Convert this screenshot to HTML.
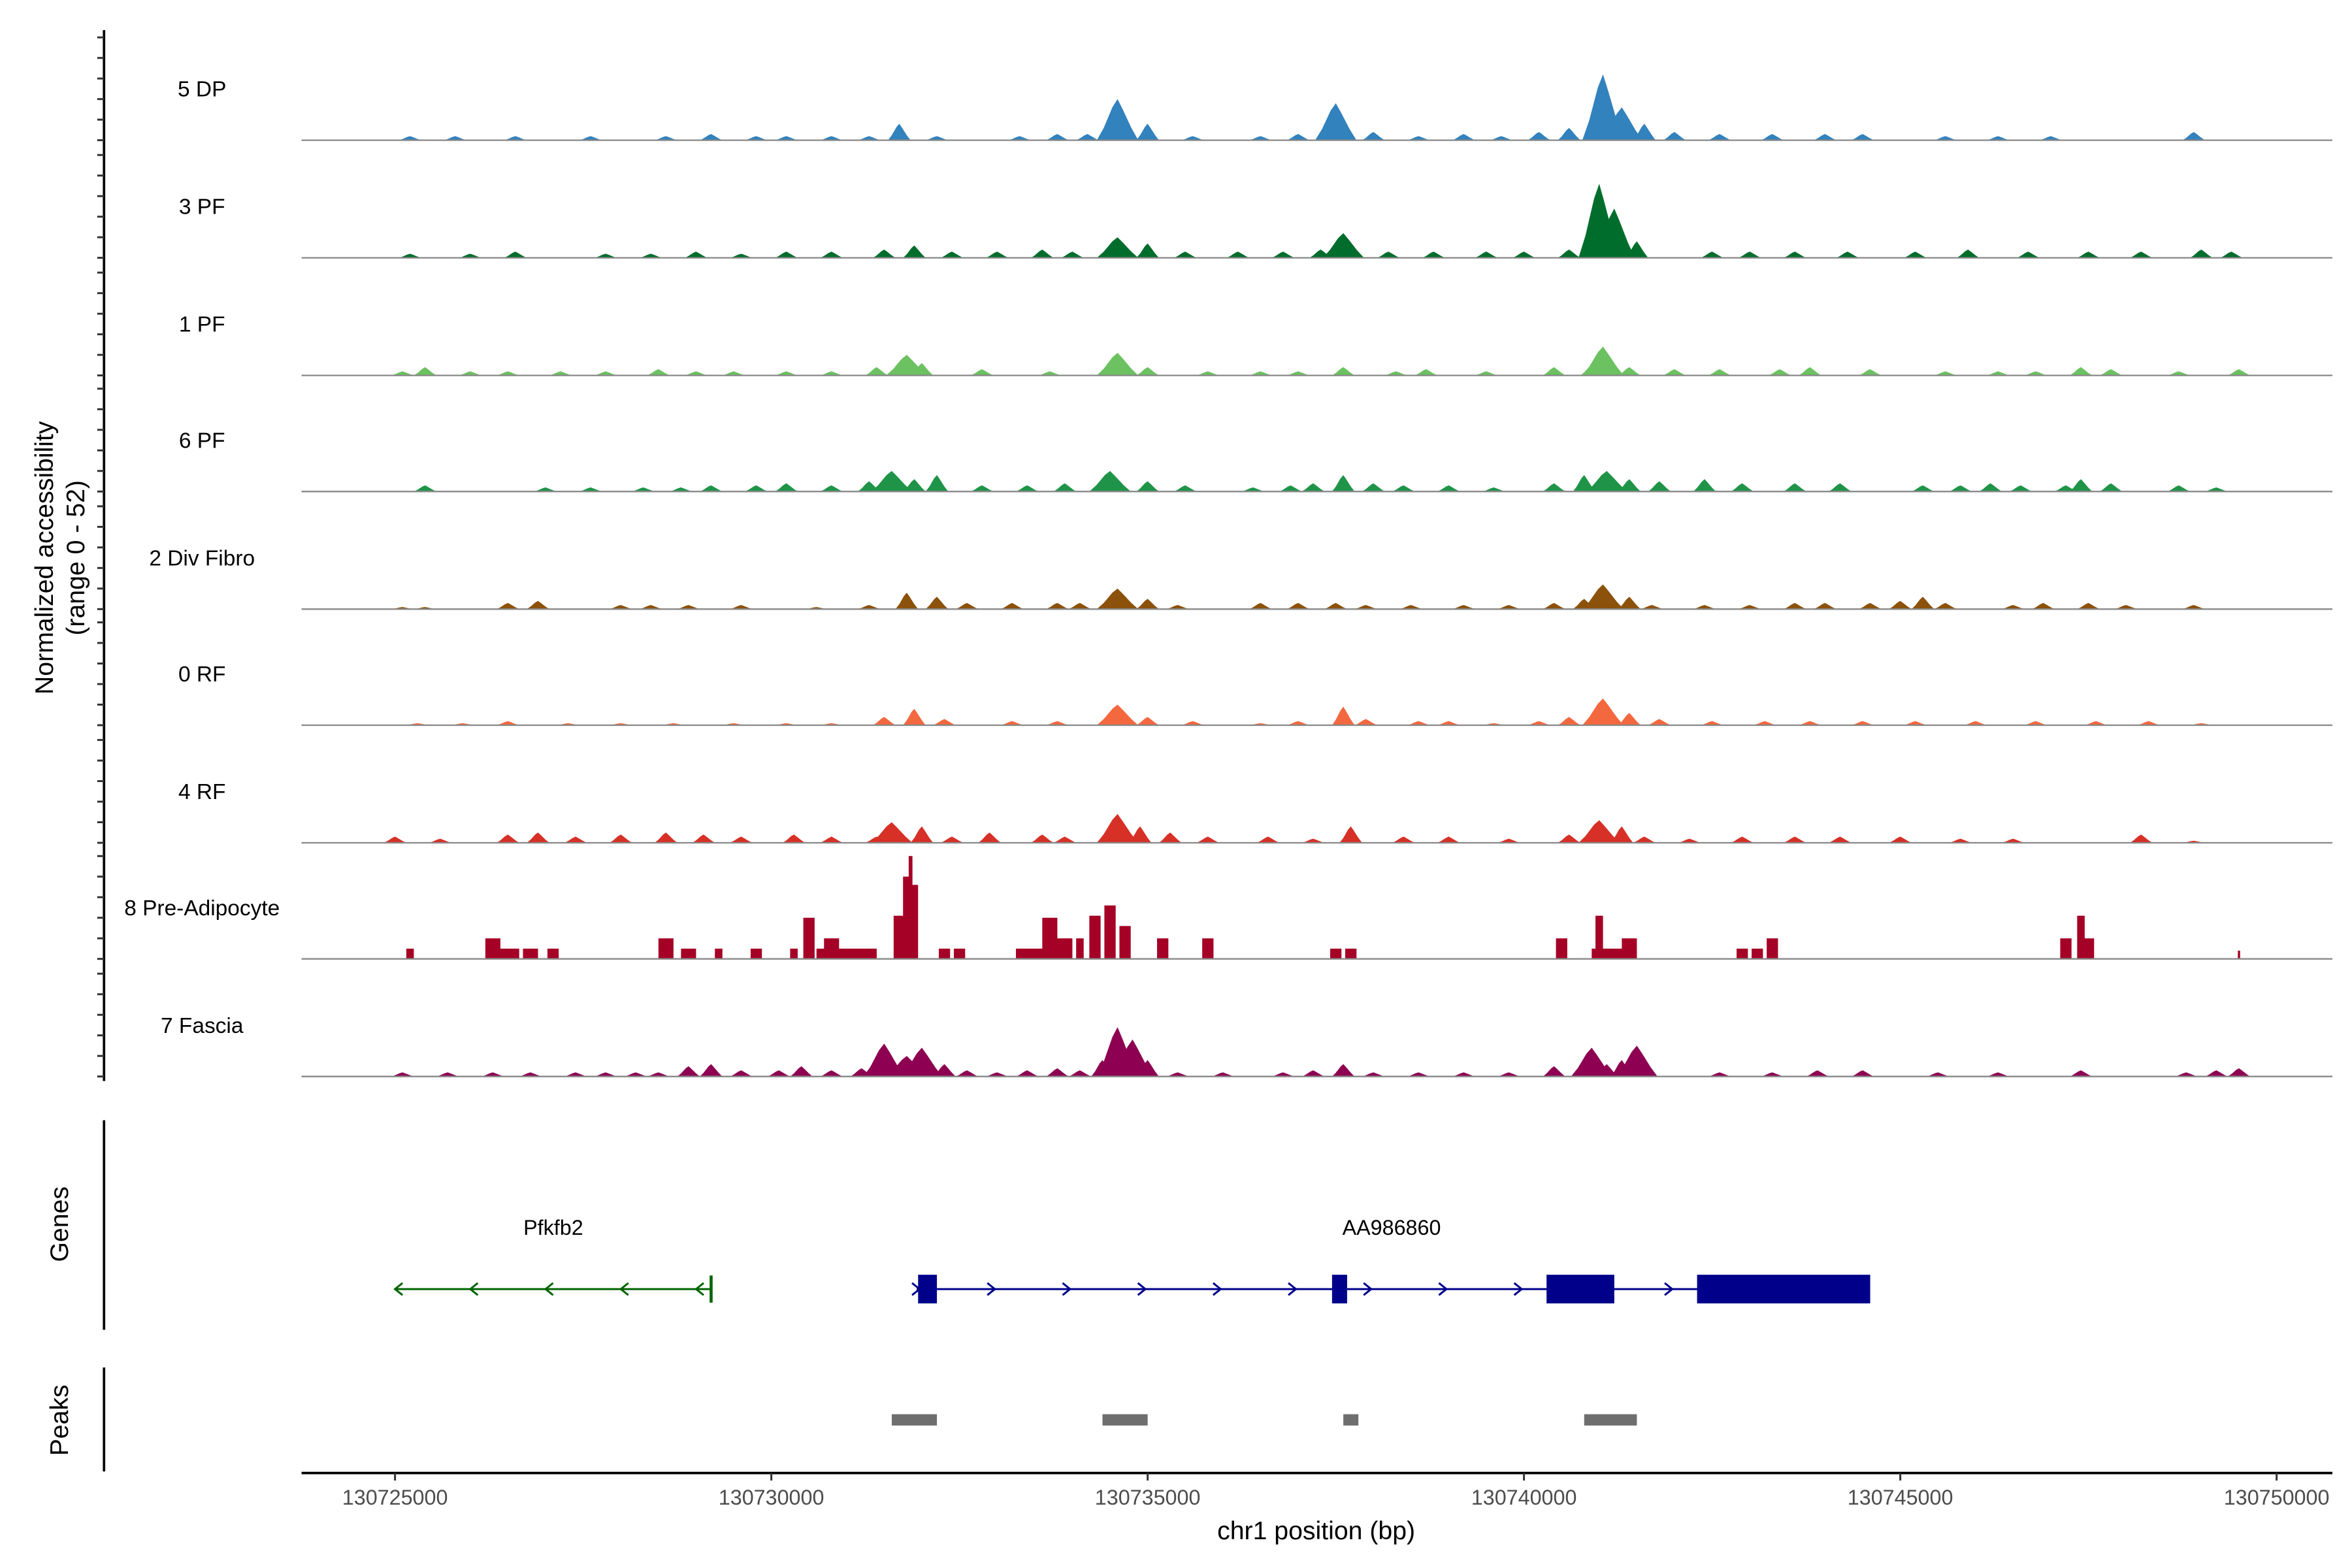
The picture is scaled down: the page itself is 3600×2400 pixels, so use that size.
<!DOCTYPE html>
<html><head><meta charset="utf-8"><style>
html,body{margin:0;padding:0;background:#fff;}
svg{display:block;font-family:"Liberation Sans",sans-serif;}
</style></head><body>
<svg id="chart" width="3600" height="2400" viewBox="0 0 1560 1040" xmlns="http://www.w3.org/2000/svg">
<g id="tracks"></g>
<g id="yaxis"></g>
<text transform="translate(35,370) rotate(-90)" text-anchor="middle" font-size="17">Normalized accessibility</text>
<text transform="translate(56,370) rotate(-90)" text-anchor="middle" font-size="17">(range 0 - 52)</text>
<g id="genes"></g>
<g id="peaks"></g>
<g id="xaxis"></g>
<text x="873" y="1021" text-anchor="middle" font-size="17">chr1 position (bp)</text>
</svg>
<script>
const trackNames = ["5 DP","3 PF","1 PF","6 PF","2 Div Fibro","0 RF","4 RF","8 Pre-Adipocyte","7 Fascia"];
const trackColors = ["#3182bd","#006d2c","#6cc160","#1f9448","#8c510a","#f4683f","#d73027","#a50026","#8e0152"];
const pos0=[25.2,25.8,26.6,27.6,28.6,29.2,29.8,30.2,30.8,31.3,31.7,32.2,33.3,33.8,34.2,34.6,35.0,35.6,36.5,37.0,37.5,38.0,38.6,39.2,39.7,40.2,40.6,41.05,41.3,41.6,42.0,42.6,43.3,44.0,44.5,45.6,46.3,47.0,48.9];
const val0=[2,2,2,2,2,3,2,2,2,2,8,2,2,3,3,20,8,2,2,3,18,4,2,3,2,4,6,32,16,8,4,3,3,3,3,2,2,2,4];
const pos1=[25.2,26.0,26.6,27.8,28.4,29.0,29.6,30.2,30.8,31.5,31.9,32.4,33.0,33.6,34.0,34.6,35.0,35.5,36.2,36.8,37.3,37.6,38.2,38.8,39.5,40.0,40.6,41.0,41.2,41.5,42.5,43.0,43.6,44.3,45.2,45.9,46.7,47.5,48.2,49.0,49.4];
const val1=[2,2,3,2,2,3,2,3,3,4,6,3,3,4,3,10,7,3,3,3,4,12,3,3,3,3,4,36,24,8,3,3,3,3,3,4,3,3,3,4,3];
const pos2=[25.1,25.4,26.0,26.5,27.2,27.8,28.5,29.0,29.5,30.2,30.8,31.4,31.8,32.0,32.8,33.7,34.6,35.0,35.8,36.5,37.0,37.6,38.3,38.7,39.5,40.4,40.9,41.05,41.4,42.0,42.6,43.4,43.8,44.6,45.6,46.3,46.8,47.4,47.8,48.7,49.5];
const val2=[2,4,2,2,2,2,3,2,2,2,2,4,10,6,3,2,11,4,2,2,2,4,2,3,2,4,5,14,4,3,3,3,4,3,2,2,2,4,3,2,3];
const pos3=[25.4,27.0,27.6,28.3,28.8,29.2,29.8,30.2,30.8,31.3,31.6,31.9,32.2,32.8,33.4,33.9,34.5,35.0,35.5,36.4,36.9,37.2,37.6,38.0,38.4,39.0,39.6,40.4,40.8,41.1,41.4,41.8,42.4,42.9,43.6,44.2,45.3,45.8,46.2,46.6,47.2,47.4,47.8,48.7,49.2];
const val3=[3,2,2,2,2,3,3,4,3,5,10,6,8,3,3,4,10,5,3,2,3,4,8,4,3,3,2,4,8,10,6,5,6,4,4,4,3,3,4,3,3,6,4,3,2];
const pos4=[25.1,25.4,26.5,26.9,28.0,28.4,28.9,29.6,30.6,31.3,31.8,32.2,32.6,33.2,33.8,34.1,34.6,35.0,35.4,36.5,37.0,37.5,37.9,38.5,39.2,39.8,40.4,40.8,41.05,41.4,41.7,42.4,43.0,43.6,44.0,44.6,45.0,45.3,45.6,46.5,46.9,47.5,48.0,48.9];
const val4=[1,1,3,4,2,2,2,2,1,2,8,6,3,3,3,3,10,5,2,3,3,3,2,2,2,2,3,5,12,6,2,2,2,3,3,3,4,6,3,2,3,3,2,2];
const pos5=[25.3,25.9,26.5,27.3,28.0,28.7,29.5,30.2,30.8,31.5,31.9,32.3,33.2,33.8,34.6,35.0,35.6,36.5,37.0,37.6,37.9,38.6,39.0,39.6,40.2,40.6,41.05,41.4,41.8,42.5,43.2,43.8,44.5,45.2,46.0,46.8,47.6,48.3,49.0];
const val5=[1,1,2,1,1,1,1,1,1,4,8,3,2,2,10,4,2,1,2,9,3,2,2,1,2,4,13,6,3,2,2,2,2,2,2,2,2,2,1];
const pos6=[25.0,25.6,26.5,26.9,27.4,28.0,28.6,29.1,29.6,30.3,30.8,31.4,31.6,32.0,32.4,32.9,33.6,33.9,34.6,34.9,35.3,35.8,36.6,37.2,37.7,38.4,39.0,39.8,40.6,41.0,41.3,41.6,42.2,42.9,43.6,44.2,45.0,45.8,46.5,48.2,48.9];
const val6=[3,2,4,5,3,4,5,4,3,4,3,3,10,8,3,5,4,3,14,8,5,3,3,2,8,3,3,2,4,11,8,3,2,3,3,3,3,2,2,4,1];
const pos7=[25.2,26.3,26.5,26.8,27.1,28.6,28.9,29.3,29.8,30.3,30.5,30.8,31.0,31.7,31.8,31.85,31.9,32.3,32.5,33.5,33.7,33.9,34.1,34.3,34.5,34.7,35.2,35.8,37.5,37.7,40.5,41.0,41.1,41.4,42.9,43.1,43.3,47.2,47.4,47.5,49.5];
const val7=[5,10,5,5,5,10,5,5,5,5,20,10,5,21,40,50,36,5,5,5,20,10,10,21,26,16,10,10,5,5,10,21,5,10,5,5,10,10,21,10,4];
const wid7=[0.1,0.2,0.3,0.2,0.15,0.2,0.2,0.1,0.15,0.1,0.15,0.2,0.8,0.15,0.1,0.05,0.1,0.15,0.15,0.5,0.2,0.2,0.1,0.15,0.15,0.15,0.15,0.15,0.15,0.15,0.15,0.1,0.4,0.2,0.15,0.15,0.15,0.15,0.1,0.15,0.03];
const pos8=[25.1,25.7,26.3,26.8,27.4,27.8,28.2,28.5,28.9,29.2,29.6,30.1,30.4,30.8,31.2,31.5,31.8,32.0,32.3,32.6,33.0,33.4,33.8,34.1,34.4,34.6,34.8,35.0,35.4,36.0,36.8,37.2,37.6,38.0,38.6,39.2,39.8,40.4,40.9,41.1,41.3,41.5,42.6,43.3,43.9,44.5,45.5,46.3,47.4,48.8,49.2,49.5];
const val8=[2,2,2,2,2,2,2,2,5,6,3,3,5,3,4,16,10,14,6,3,2,3,4,3,8,24,18,8,2,2,2,3,6,2,2,2,2,5,14,6,8,15,2,2,3,3,2,2,3,2,3,4];
const trackPos=[pos0,pos1,pos2,pos3,pos4,pos5,pos6,pos7,pos8];
const trackVal=[val0,val1,val2,val3,val4,val5,val6,val7,val8];
const xTicks=[130725000,130730000,130735000,130740000,130745000,130750000];
const aaExonStart=[31.95,37.45,40.3,42.3];
const aaExonEnd=[32.2,37.65,41.2,44.6];
const peakStart=[31.6,34.4,37.6,40.8];
const peakEnd=[32.2,35.0,37.8,41.5];

const NS="http://www.w3.org/2000/svg";
function X(bp){return 262+(bp-130725000)/1000*49.92;}
function Xk(k){return X(130700000+k*1000);}
const baselines=[93,171,249,326,404,481,559,636,714];
const unitPx=1.364;
function mk(tag,attrs,parent){const e=document.createElementNS(NS,tag);for(const k in attrs)e.setAttribute(k,attrs[k]);parent.appendChild(e);return e;}

const tg=document.getElementById('tracks');
trackNames.forEach((name,i)=>{
  const b=baselines[i];
  const g=mk('g',{},tg);
  
  
  const lab=mk('text',{x:134,y:b-29,'text-anchor':'middle','font-size':14.5},g);
  lab.textContent=name;
  
  
  const P=trackPos[i],V=trackVal[i];
  let d='';
  P.forEach((p,j)=>{
    const h=V[j]*unitPx;
    const x=Xk(p);
    if(i===7){
      const w=wid7[j]*49.92;
      d+=`M${x-w/2},${b}V${b-h}H${x+w/2}V${b}Z`;
    }else{
      const w=(V[j]>9?0.55:0.3)*49.92;
      d+=`M${x-w/2},${b}L${x-w/3},${b-h*0.3}L${x-w/8},${b-h*0.8}L${x},${b-h}L${x+w/8},${b-h*0.75}L${x+w/3},${b-h*0.3}L${x+w/2},${b}Z`;
    }
  });
  const path=mk('path',{d:d,fill:trackColors[i]},g);
  
  
  const bl=mk('line',{x1:200,x2:1547,y1:b,y2:b,stroke:'#888','stroke-width':1},g);
  
  
});

const ya=document.getElementById('yaxis');
mk('line',{x1:69,x2:69,y1:20,y2:717,stroke:'#000','stroke-width':1.6},ya);
baselines.forEach(b=>{for(let k=0;k<=5;k++){const y=b-k*10*unitPx;mk('line',{x1:64.5,x2:69,y1:y,y2:y,stroke:'#333','stroke-width':1.3},ya);}});

const gg=document.getElementById('genes');
mk('line',{x1:69,x2:69,y1:743,y2:882,stroke:'#000','stroke-width':1.6},gg);
const gt=mk('text',{transform:'translate(45,812) rotate(-90)','text-anchor':'middle','font-size':17},gg);gt.textContent='Genes';


const pf=mk('g',{},gg);


mk('line',{x1:Xk(25),x2:Xk(29.2),y1:855,y2:855,stroke:'#006400','stroke-width':1.3},pf);
mk('line',{x1:Xk(29.2),x2:Xk(29.2),y1:846,y2:864,stroke:'#006400','stroke-width':2},pf);
[25,26,27,28,29].forEach(k=>{const x=Xk(k);mk('polyline',{points:`${x+5},${851} ${x},${855} ${x+5},${859}`,fill:'none',stroke:'#006400','stroke-width':1.3},pf);});
const pft=mk('text',{x:367,y:819,'text-anchor':'middle','font-size':14},pf);pft.textContent='Pfkfb2';
const aa=mk('g',{},gg);


mk('line',{x1:608,x2:Xk(44.6),y1:855,y2:855,stroke:'#00008b','stroke-width':1.3},aa);
[31.95,32.95,33.95,34.95,35.95,36.95,37.95,38.95,39.95,41.95].forEach(k=>{const x=Xk(k);mk('polyline',{points:`${x-4},${851} ${x+1},${855} ${x-4},${859}`,fill:'none',stroke:'#00008b','stroke-width':1.3},aa);});
aaExonStart.forEach((s,j)=>{const x1=Xk(s),x2=Xk(aaExonEnd[j]);const r=mk('rect',{x:x1,y:845.5,width:x2-x1,height:19,fill:'#00008b'},aa);});
const aat=mk('text',{x:923,y:819,'text-anchor':'middle','font-size':14},aa);aat.textContent='AA986860';

const pg=document.getElementById('peaks');
mk('line',{x1:69,x2:69,y1:907,y2:976,stroke:'#000','stroke-width':1.6},pg);
const pt=mk('text',{transform:'translate(45,942) rotate(-90)','text-anchor':'middle','font-size':17},pg);pt.textContent='Peaks';


peakStart.forEach((s,j)=>{const x1=Xk(s),x2=Xk(peakEnd[j]);const r=mk('rect',{x:x1,y:938,width:x2-x1,height:7.5,fill:'#6e6e6e'},pg);});

const xa=document.getElementById('xaxis');
mk('line',{x1:200,x2:1547,y1:977,y2:977,stroke:'#000','stroke-width':1.6},xa);
xTicks.forEach(t=>{const x=X(t);mk('line',{x1:x,x2:x,y1:977,y2:982,stroke:'#333','stroke-width':1.3},xa);const tx=mk('text',{x:x,y:998,'text-anchor':'middle','font-size':14,fill:'#4d4d4d'},xa);tx.textContent=String(t);});
</script>
</body></html>
